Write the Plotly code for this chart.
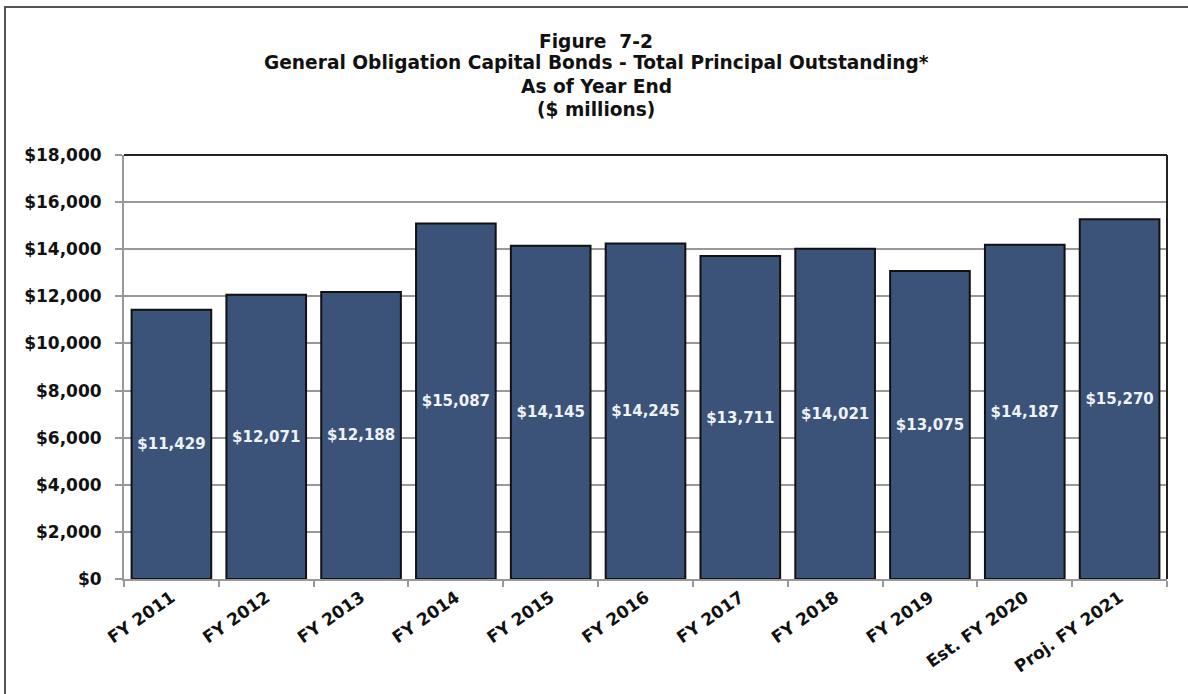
import plotly.graph_objects as go

categories = ["FY 2011", "FY 2012", "FY 2013", "FY 2014", "FY 2015", "FY 2016",
              "FY 2017", "FY 2018", "FY 2019", "Est. FY 2020", "Proj. FY 2021"]
values = [11429, 12071, 12188, 15087, 14145, 14245, 13711, 14021, 13075, 14187, 15270]
labels = ["$11,429", "$12,071", "$12,188", "$15,087", "$14,145", "$14,245",
          "$13,711", "$14,021", "$13,075", "$14,187", "$15,270"]
title_lines = ["Figure  7-2",
               "General Obligation Capital Bonds - Total Principal Outstanding*",
               "As of Year End",
               "($ millions)"]
y_ticks = list(range(0, 18001, 2000))
y_ticktext = ["<b>$" + format(v, ",") + "</b>" for v in y_ticks]
x_ticktext = ["<b>" + c + "</b>" for c in categories]

FONT = "DejaVu Sans"

fig = go.Figure(go.Bar(
    x=categories, y=values, text=["<b>" + t + "</b>" for t in labels],
    textposition="inside", insidetextanchor="middle", textangle=0,
    textfont=dict(family=FONT, size=15, color="#eef2f7"),
    marker=dict(color="#3b5378", line=dict(color="#111111", width=2)),
    width=0.84,
))

W, H = 1188, 694
L, R, T, B = 124, 21, 155, 115
pw, ph = W - L - R, H - T - B

def px(x):
    return (x - L) / pw

def py(y):
    return (H - B - y) / ph

annotations = []
for line, yc in zip(title_lines, [41, 63, 86, 109]):
    annotations.append(dict(text="<b>" + line + "</b>", xref="paper", yref="paper",
                            x=px(596), y=py(yc), xanchor="center", yanchor="middle",
                            showarrow=False,
                            font=dict(family=FONT, size=18.6, color="#111111")))

shapes = [
    dict(type="rect", xref="paper", yref="paper", x0=px(5), y0=py(700), x1=px(1195), y1=py(7),
         line=dict(color="#555555", width=2), layer="below"),
    dict(type="line", xref="paper", yref="paper", x0=0, x1=1, y0=1, y1=1,
         line=dict(color="#222222", width=2)),
    dict(type="line", xref="paper", yref="paper", x0=1, x1=1, y0=0, y1=1,
         line=dict(color="#222222", width=2)),
]

fig.update_layout(
    width=W, height=H,
    margin=dict(l=L, r=R, t=T, b=B),
    paper_bgcolor="white", plot_bgcolor="white",
    showlegend=False,
    annotations=annotations,
    shapes=shapes,
    uniformtext=dict(minsize=10, mode="show"),
)
fig.update_yaxes(
    range=[0, 18000], tickvals=y_ticks, ticktext=y_ticktext,
    showgrid=True, gridcolor="#999999", gridwidth=1.5,
    showline=True, linecolor="#999999", linewidth=2,
    ticks="outside", ticklen=7, tickcolor="#999999", tickwidth=2,
    ticklabelstandoff=10,
    tickfont=dict(family=FONT, size=17, color="#111111"),
    zeroline=False, fixedrange=True,
)
fig.update_xaxes(
    tickvals=categories, ticktext=x_ticktext,
    tickangle=-35, tickson="boundaries",
    showline=True, linecolor="#999999", linewidth=2,
    ticks="outside", ticklen=6, tickcolor="#999999", tickwidth=2,
    tickfont=dict(family=FONT, size=17, color="#111111"),
    showgrid=False, fixedrange=True,
)

fig.write_html("out.html", config={"displayModeBar": False},
               post_script="document.body.style.margin='0';document.body.style.overflow='hidden';")
